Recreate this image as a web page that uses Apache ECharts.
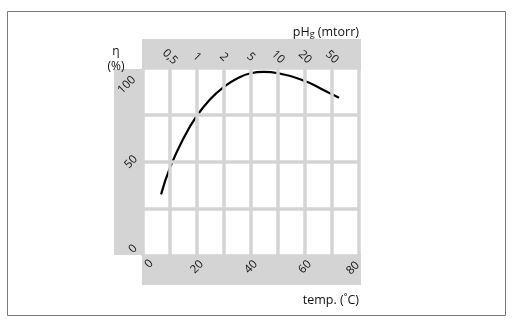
<!DOCTYPE html>
<html>
<head>
<meta charset="utf-8">
<script src="https://cdn.jsdelivr.net/npm/echarts@6/dist/echarts.min.js"></script>
<style>
html,body{margin:0;padding:0;background:#fff;}
#c{width:515px;height:326px;}
</style>
</head>
<body>
<div id="c"></div>
<script>
// Data
const tempC = [6.7, 10, 14.9, 19.9, 24.8, 30, 34.7, 39.9, 44.6, 50.1, 60, 66.8, 72.6];
const efficiency = [32.8, 47, 62.4, 74.5, 83.3, 90, 94.3, 97.2, 97.9, 97.2, 93.1, 88.3, 84.2];
const tempTickLabels = ['0', '20', '40', '60', '80'];
const effTickLabels = ['0', '50', '100'];
const pressureTemps = [10, 20, 30, 40, 50, 60, 70];
const pressureLabels = ['0,5', '1', '2', '5', '10', '20', '50'];

const FONT = 'Open Sans';
const GRAY = '#d4d4d4';
const INK = '#111';
const chart = echarts.init(document.getElementById('c'), null, {renderer: 'canvas'});

const tickFont = {fontFamily: FONT, fontSize: 11.5, color: INK};

const option = {
  animation: false,
  backgroundColor: '#fff',
  textStyle: {fontFamily: FONT},
  graphic: [
    {type: 'rect', z: -10, shape: {x: 7.5, y: 11.5, width: 498, height: 304}, style: {fill: 'none', stroke: '#7a7a7a', lineWidth: 1}},
    {type: 'rect', z: -10, shape: {x: 142, y: 39, width: 219, height: 31}, style: {fill: GRAY}},
    {type: 'rect', z: -10, shape: {x: 114, y: 69, width: 30, height: 186}, style: {fill: GRAY}},
    {type: 'rect', z: -10, shape: {x: 142, y: 254, width: 219, height: 31}, style: {fill: GRAY}}
  ],
  grid: {left: 143, top: 68, width: 216, height: 188, show: true, backgroundColor: '#fff', borderWidth: 0},
  xAxis: [
    {
      type: 'value', min: 0, max: 80, interval: 10, position: 'bottom', z: 5,
      axisLine: {show: false}, axisTick: {show: false},
      splitLine: {show: true, lineStyle: {color: GRAY, width: 3.5}},
      axisLabel: Object.assign({
        rotate: 45, margin: 11, align: 'center', verticalAlign: 'middle',
        formatter: v => {
          if (v % 20 !== 0) return '';
          const s = tempTickLabels[v / 20];
          if (v === 0) return '{lo|' + s + '}';
          if (v === 80) return '{hi|' + s + '}';
          return '{m|' + s + '}';
        },
        rich: {
          m: tickFont,
          lo: Object.assign({padding: [4, 0, 0, 13]}, tickFont),
          hi: Object.assign({padding: [0, 10, 7, 0]}, tickFont)
        }
      }, tickFont),
      name: 'temp. (˚C)', nameLocation: 'end', nameGap: 0, nameMoveOverlap: false,
      nameTextStyle: {fontFamily: FONT, fontSize: 12.5, color: INK, align: 'right', verticalAlign: 'top', padding: [38, 0, 0, 0]}
    },
    {
      type: 'value', min: 0, max: 80, interval: 10, position: 'top', z: 5,
      axisLine: {show: false}, axisTick: {show: false}, splitLine: {show: false},
      axisLabel: Object.assign({
        rotate: 45, margin: 11, align: 'center', verticalAlign: 'middle',
        formatter: v => { const i = pressureTemps.indexOf(v); return i >= 0 ? pressureLabels[i] : ''; }
      }, tickFont),
      name: '{n|pH}{s|g}{n| (mtorr)}', nameLocation: 'end', nameGap: 0, nameMoveOverlap: false,
      nameTextStyle: {
        align: 'right', verticalAlign: 'bottom', padding: [0, 0, 29, 0],
        rich: {
          n: {fontFamily: FONT, fontSize: 12.5, color: INK},
          s: {fontFamily: FONT, fontSize: 9, color: INK, padding: [5, 0, 0, 0]}
        }
      }
    }
  ],
  yAxis: {
    type: 'value', min: 0, max: 100, interval: 25, z: 5,
    axisLine: {show: false}, axisTick: {show: false},
    splitLine: {show: true, lineStyle: {color: GRAY, width: 3.5}},
    axisLabel: Object.assign({
      rotate: 45, margin: 12, align: 'center', verticalAlign: 'middle',
      formatter: v => {
        if (v % 50 !== 0) return '';
        const s = effTickLabels[v / 50];
        if (v === 0) return '{lo|' + s + '}';
        if (v === 100) return '{hi|' + s + '}';
        return '{m|' + s + '}';
      },
      rich: {
        m: tickFont,
        lo: Object.assign({padding: [0, 0, 7, 13]}, tickFont),
        hi: Object.assign({padding: [18, 30, 0, 0]}, tickFont)
      }
    }, tickFont),
    name: 'η\n(%)', nameLocation: 'end', nameGap: -6, nameMoveOverlap: false,
    nameTextStyle: {fontFamily: FONT, fontSize: 12, lineHeight: 15, color: INK, align: 'center', verticalAlign: 'bottom', padding: [0, 54, 0, 0]}
  },
  series: [{
    type: 'line', xAxisIndex: 0, yAxisIndex: 0,
    data: tempC.map((t, i) => [t, efficiency[i]]),
    smooth: 0.5, showSymbol: false, symbol: 'none',
    lineStyle: {color: '#000', width: 2.2}
  }]
};
chart.setOption(option);
</script>
</body>
</html>
